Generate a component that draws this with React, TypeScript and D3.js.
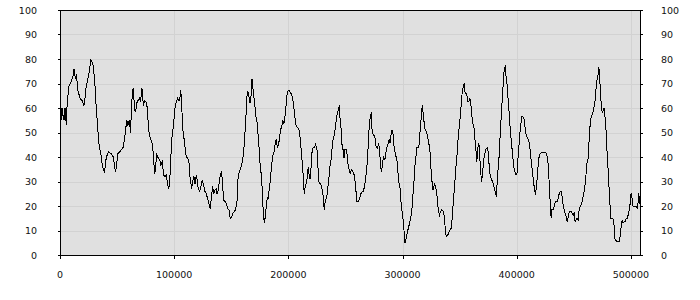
import React from "react";
import * as d3 from "d3";

// sample positions (in thousands) and values
const sampleK = [
  0, 1.75, 2.6, 3.5, 4.4, 5.5, 6.4, 7.9, 9.9, 11.4, 12.3, 13.4, 14.3, 15.2, 15.8, 17.5, 19.3, 21, 21.6, 23, 24.5, 26, 26.9, 28, 29.2, 30.4, 31.5, 32.7, 33.9, 34.7, 35.6, 36.8, 37.9, 39.1, 40.3, 41.4, 42.6, 44.4, 45.5, 46.7, 47.9, 48.7, 49.6, 50.8, 52.2, 53.7, 55.4, 56.6, 57.5, 58.4, 59.5, 60.7, 61.9, 62.5, 63.6, 64.2, 65.4, 66.3, 67.1, 68.3, 69.5, 70.6, 71.8, 73, 74.1, 75.3, 76.5, 77.1, 78.2, 79.4, 80.6, 81.7, 82.9, 83.8,
  84.6, 86.1, 87.3, 88.4, 89.6, 90.8, 91.9, 93.1, 94.3, 95.4, 96.3, 97.2, 97.8, 98.9, 99.8, 100.7, 101.9, 103.0, 104.2, 105.1, 105.7, 106.5, 107.4, 108.6, 109.5, 110.6, 111.8, 113.0, 113.5, 114.7, 115.3, 116.4, 117.3, 118.2, 119.4, 120.3, 121.1, 122.3, 123.5, 124.6, 125.8, 127.0, 128.1, 129.3, 130.5, 131.6, 132.8, 133.7, 134.5, 135.7, 136.9, 137.5, 138.6, 139.8, 140.7, 141.6, 142.4, 143.3, 144.5, 145.6, 146.8, 148.0, 149.1, 150.3, 151.5, 152.6, 153.8, 155.0, 156.1, 157.3, 158.5, 159.7, 160.8, 162.0, 162.9, 163.7, 164.6, 165.5, 166.4, 167.2, 168.1, 169.0,
  170.7, 171.6, 172.5, 173.4, 174.2, 175.1, 176.0, 176.9, 177.7, 178.6, 179.2, 180.1, 181.0, 181.5, 182.1, 183.0, 183.9, 184.7, 185.6, 186.5, 187.4, 188.5, 189.4, 190.3, 191.5, 192.3, 193.2, 194.4, 195.2, 196.1, 197.0, 197.9, 199.0, 199.9, 201.1, 202.2, 203.1, 204.0, 204.9, 205.7, 206.6, 207.5, 208.7, 209.8, 210.7, 211.6, 212.5, 213.3, 213.9, 214.8, 216.0, 216.8, 217.4, 218.3, 219.2, 220.1, 220.9, 221.8, 223.0, 223.8, 225.0, 225.9, 226.8, 227.9, 228.8, 230.0, 230.9, 231.4, 232.3, 233.2, 234.1, 234.9, 235.8, 236.7, 237.6, 238.4, 239.3, 240.2, 241.1, 241.9, 242.8, 243.7, 244.6, 245.4, 246.3, 247.2, 248.1, 248.7, 249.5, 250.7, 251.6, 252.5,
  253.0, 254.2, 255.3, 256.5, 257.7, 258.8, 260.0, 261.2, 262.3, 263.5, 264.7, 265.8, 267.0, 267.9, 268.8, 269.6, 270.5, 271.1, 272.0, 272.8, 273.4, 274.6, 275.8, 276.9, 278.1, 279.0, 279.9, 280.7, 281.6, 282.5, 283.4, 284.5, 285.4, 286.3, 287.4, 288.3, 289.2, 290.1, 290.9, 291.8, 292.7, 293.6, 294.4, 295.6, 296.5, 297.7, 298.5, 299.4, 300.3, 301.2, 302.0, 302.9, 303.8, 304.7, 305.5, 306.4, 307.3, 308.2, 309.0, 309.9, 310.8, 311.7, 312.5, 313.4, 314.3, 315.2, 315.8, 316.6, 317.2, 317.8, 318.7, 319.5, 320.4, 321.3, 322.2, 323.0, 323.9, 324.8, 325.7, 326.6, 327.4, 328.3, 329.2, 330.1, 330.6, 331.5, 332.4, 333.3, 334.1, 335.3, 336.2, 337.1, 337.6, 338.8,
  340.3, 341.5, 342.7, 343.5, 344.4, 345.3, 346.2, 347.0, 347.9, 348.8, 349.7, 350.6, 351.4, 352.3, 353.2, 354.1, 354.6, 355.5, 356.4, 357.3, 358.1, 359.0, 359.9, 360.8, 361.6, 362.5, 363.4, 364.3, 365.1, 366.0, 366.9, 367.8, 368.6, 369.2, 370.1, 371.0, 371.9, 372.7, 373.6, 374.5, 375.4, 376.2, 377.1, 378.0, 378.9, 379.7, 380.6, 381.5, 382.1, 382.7, 383.5, 384.4, 385.0, 385.9, 386.5, 387.3, 388.2, 389.1, 390.0, 390.8, 391.7, 392.3, 393.2, 394.0, 394.9, 395.8, 396.7, 397.5, 398.4, 399.3, 400.2, 401.0, 401.9, 402.8, 403.7, 404.5, 405.4, 406.3, 407.2, 408.0, 408.9, 409.8, 410.7, 411.6, 412.4, 413.3, 414.2, 415.1, 415.9, 416.5, 417.4, 418.3, 419.1, 420.0, 420.9, 421.8, 422.9, 424.1,
  425.8, 427.0, 427.9, 428.7, 429.6, 430.2, 430.8, 431.7, 432.5, 433.4, 434.3, 435.2, 436.0, 436.9, 438.1, 439.0, 439.8, 440.7, 441.6, 442.5, 443.3, 444.2, 445.1, 446.0, 446.8, 447.7, 448.6, 449.5, 450.3, 451.2, 452.1, 453.0, 453.8, 454.7, 455.6, 456.5, 457.3, 458.2, 459.1, 460.0, 460.8, 461.7, 462.6, 463.2, 463.8, 464.6, 465.5, 466.4, 467.3, 468.1, 469.0, 469.6, 470.5, 471.3, 471.9, 472.5, 473.1, 473.7, 474.3, 475.1, 476.0, 476.6, 477.2, 478.1, 478.9, 479.8, 480.7, 481.6, 482.1, 483.0, 483.9, 484.8, 485.7, 486.2, 487.1, 488.0, 488.9, 489.7, 490.6, 491.5, 492.4, 493.2, 494.1, 495.0, 495.9, 496.7, 497.6, 498.5, 499.4, 500.2, 501.1, 502.0, 502.9, 503.7, 504.6, 505.5, 506.4, 507.0, 507.5,
];

const values = [
  50, 60, 57, 55, 60, 53, 63, 69, 71, 73, 76, 72, 73, 70, 67, 64, 63, 61, 62.6, 69, 72, 76, 79.6, 79, 77, 71, 62, 54, 46, 43.5, 42, 37.4, 35, 34, 39, 41, 42, 41.5, 41, 40, 36, 34, 37, 41.5, 42, 43, 44, 47.6, 51, 55, 53, 55, 50, 60, 67, 68, 59, 58.5, 62, 63, 64, 63, 68, 61, 63, 62.6, 60, 55, 49, 47.6, 45.6, 41.5, 33, 36,
  41, 39.5, 39, 36.7, 38, 32.7, 32, 32.7, 28.6, 27.2, 32, 41, 47, 51, 55, 60, 62.6, 64, 63, 64.6, 67.3, 62.6, 51.7, 47.6, 44, 40, 40, 37.4, 33.3, 29, 27, 30.6, 32, 29, 32.7, 30, 27, 25.9, 28, 30.6, 28.6, 25.9, 25, 23, 21, 19, 24.5, 28, 25, 26.5, 27, 25, 26.5, 30.6, 33.3, 34, 28.6, 22.4, 21.8, 21, 19, 18.4, 15, 15.6, 17, 17.7, 18.4, 21.8, 32.7, 34, 36, 38, 41.5, 50, 57, 64.6, 66.7, 64.6, 62, 64, 72, 68,
  61, 56.5, 54.4, 49.7, 45, 38, 34, 28.6, 20.4, 14.3, 13, 17.7, 20.4, 23.8, 22.4, 25.9, 29, 33.3, 37.4, 40.8, 42, 45.6, 47.2, 44, 45, 48.3, 51, 53, 55, 53.7, 56.5, 60.5, 66, 67, 67, 66, 65.3, 63.3, 60, 56.5, 53, 52.4, 51.7, 50.3, 46, 40.8, 36, 30.6, 25, 28, 30, 32.7, 36, 32, 31, 37.4, 43, 44, 44, 45, 43.7, 36, 30, 29, 28.6, 25.9, 22.4, 18.4, 21.8, 23, 25, 29, 32.7, 37.4, 39.5, 44, 47.6, 49, 51.7, 55, 57.8, 59, 61, 55, 51, 43.5, 42.9, 39.5, 42.9, 42.9, 40.8, 36,
  35.4, 33.3, 34.7, 34, 32.7, 28.6, 21.8, 21.8, 23, 25, 25.9, 25.9, 29, 32, 36, 41.5, 49.7, 54.4, 56.5, 58.5, 49.7, 49, 48.3, 44, 43.5, 45.6, 42.9, 36.7, 34, 37.4, 40, 38.8, 41.5, 44, 45.6, 47, 45.6, 49.7, 51, 49, 43.5, 41.5, 40, 37.4, 30, 28, 22.4, 18.4, 15.6, 10.9, 4.8, 6.1, 8.2, 10.2, 11.6, 13.6, 15.6, 18.4, 23.8, 29, 36, 40, 44, 44, 44, 49, 53.7, 56.5, 61.2, 59.2, 55, 51.7, 51, 49.7, 47.6, 45.6, 43.5, 36, 30.6, 26.5, 28, 29, 27.2, 25, 21.8, 17.7, 16.3, 17.7, 18.4, 18, 17, 13, 8.8, 7.5,
  8.8, 10.2, 10.9, 15, 21, 26.5, 32, 37.4, 41.5, 48.3, 52.4, 56.5, 61.2, 66.7, 68.7, 70, 66.7, 66, 65.3, 62.6, 62.6, 64, 61.2, 56.5, 53.7, 52.4, 47.6, 42.9, 38, 44, 45.6, 38.8, 33.3, 30, 32.7, 38.8, 40.8, 42.9, 43.5, 44, 40, 34, 32, 30.6, 30, 29, 26.5, 25.9, 23.8, 28, 34, 38.8, 44, 52.4, 56.5, 63.3, 70, 76.2, 76.9, 72.1, 69.4, 64.6, 59.2, 53.7, 48.3, 44, 39.5, 36, 34, 32.7, 32.7, 38.8, 44, 49.7, 53.7, 56.5, 56.5, 55.8, 52.4, 49.7, 48.3, 47.6, 46.3, 43.5, 40, 36, 32, 28.6, 25.9, 24.5, 28.6, 33.3, 38.8, 40.8, 41.5, 41.9, 42, 42,
  41.5, 40, 34.7, 27.2, 19, 15, 18.4, 18.4, 19, 21, 21.8, 21.8, 22.4, 24.5, 25.9, 25.9, 23.8, 20.4, 18.4, 17, 15.6, 13.6, 15.6, 17.7, 18, 17.7, 17, 16.3, 17, 13.6, 14.3, 15, 14.3, 18.4, 19.7, 20.4, 21.8, 23.8, 25.9, 29, 33.3, 38, 39.5, 44.9, 49.7, 55, 56.5, 57.8, 59.2, 61.2, 64, 68.7, 72.1, 73.5, 76.9, 73.5, 68.7, 64, 59.2, 58.5, 59.2, 60, 57.1, 52.4, 44, 37.4, 29, 22.4, 15, 15, 15, 14.3, 10.2, 6.1, 6.1, 5.4, 5.4, 5.4, 7.5, 11.6, 14.3, 13, 13.6, 13.6, 15, 15, 16.3, 18.4, 21, 25.2, 23, 19.7, 19.7, 19.7, 19.7, 19, 21.8, 25.2, 21,
];

const xTicks = [0, 100000, 200000, 300000, 400000, 500000];
const yTicks = [0, 10, 20, 30, 40, 50, 60, 70, 80, 90, 100];
const xMax = 508000;

export default function App() {
  const left = 60, right = 640, top = 10, bottom = 255;
  const x = d3.scaleLinear().domain([0, xMax]).range([left, right]);
  const y = d3.scaleLinear().domain([0, 100]).range([bottom, top]);
  const pts: [number, number][] = sampleK.map((k, i) => [k * 1000, values[i]]);
  const line = d3.line<[number, number]>().x((d) => x(d[0])).y((d) => y(d[1]));
  const font = { fontFamily: "DejaVu Sans", fontSize: "9.5px", fill: "#111" };
  const px = (v: number) => Math.round(v) + 0.5;

  return (
    <svg width={700} height={300} style={{ position: "absolute", left: 0, top: 0 }}>
      <rect x={0} y={0} width={700} height={300} fill="#fff" />
      <rect x={left} y={top} width={right - left} height={bottom - top} fill="#e0e0e0" />
      <g stroke="#d2d2d2" strokeWidth={1} shapeRendering="crispEdges">
        {yTicks.filter((t) => t > 0 && t < 100).map((t) => (
          <line key={"gy" + t} x1={left} x2={right} y1={px(y(t))} y2={px(y(t))} />
        ))}
        {xTicks.filter((t) => t > 0).map((t) => (
          <line key={"gx" + t} x1={px(x(t))} x2={px(x(t))} y1={top} y2={bottom} />
        ))}
      </g>
      <path d={line(pts) || ""} fill="none" stroke="#000" strokeWidth={1} shapeRendering="crispEdges" />
      <g stroke="#000" strokeWidth={1} shapeRendering="crispEdges">
        <line x1={left + 0.5} x2={left + 0.5} y1={top} y2={bottom + 1} />
        <line x1={right + 0.5} x2={right + 0.5} y1={top} y2={bottom + 1} />
        <line x1={left} x2={right + 1} y1={top + 0.5} y2={top + 0.5} />
        <line x1={left} x2={right + 1} y1={bottom + 0.5} y2={bottom + 0.5} />
        {yTicks.map((t) => (
          <g key={"ty" + t}>
            <line x1={left - 2} x2={left} y1={px(y(t))} y2={px(y(t))} />
            <line x1={right + 1} x2={right + 3} y1={px(y(t))} y2={px(y(t))} />
          </g>
        ))}
        {xTicks.map((t) => (
          <line key={"tx" + t} x1={px(x(t))} x2={px(x(t))} y1={bottom + 1} y2={bottom + 4} />
        ))}
      </g>
      <g style={font}>
        {yTicks.map((t) => (
          <text key={"ly" + t} x={37} y={y(t) + 3.5} textAnchor="end">{t}</text>
        ))}
        {yTicks.map((t) => (
          <text key={"ry" + t} x={661} y={y(t) + 3.5} textAnchor="start">{t}</text>
        ))}
        {xTicks.map((t) => (
          <text key={"lx" + t} x={x(t)} y={278} textAnchor="middle">{t}</text>
        ))}
      </g>
    </svg>
  );
}
